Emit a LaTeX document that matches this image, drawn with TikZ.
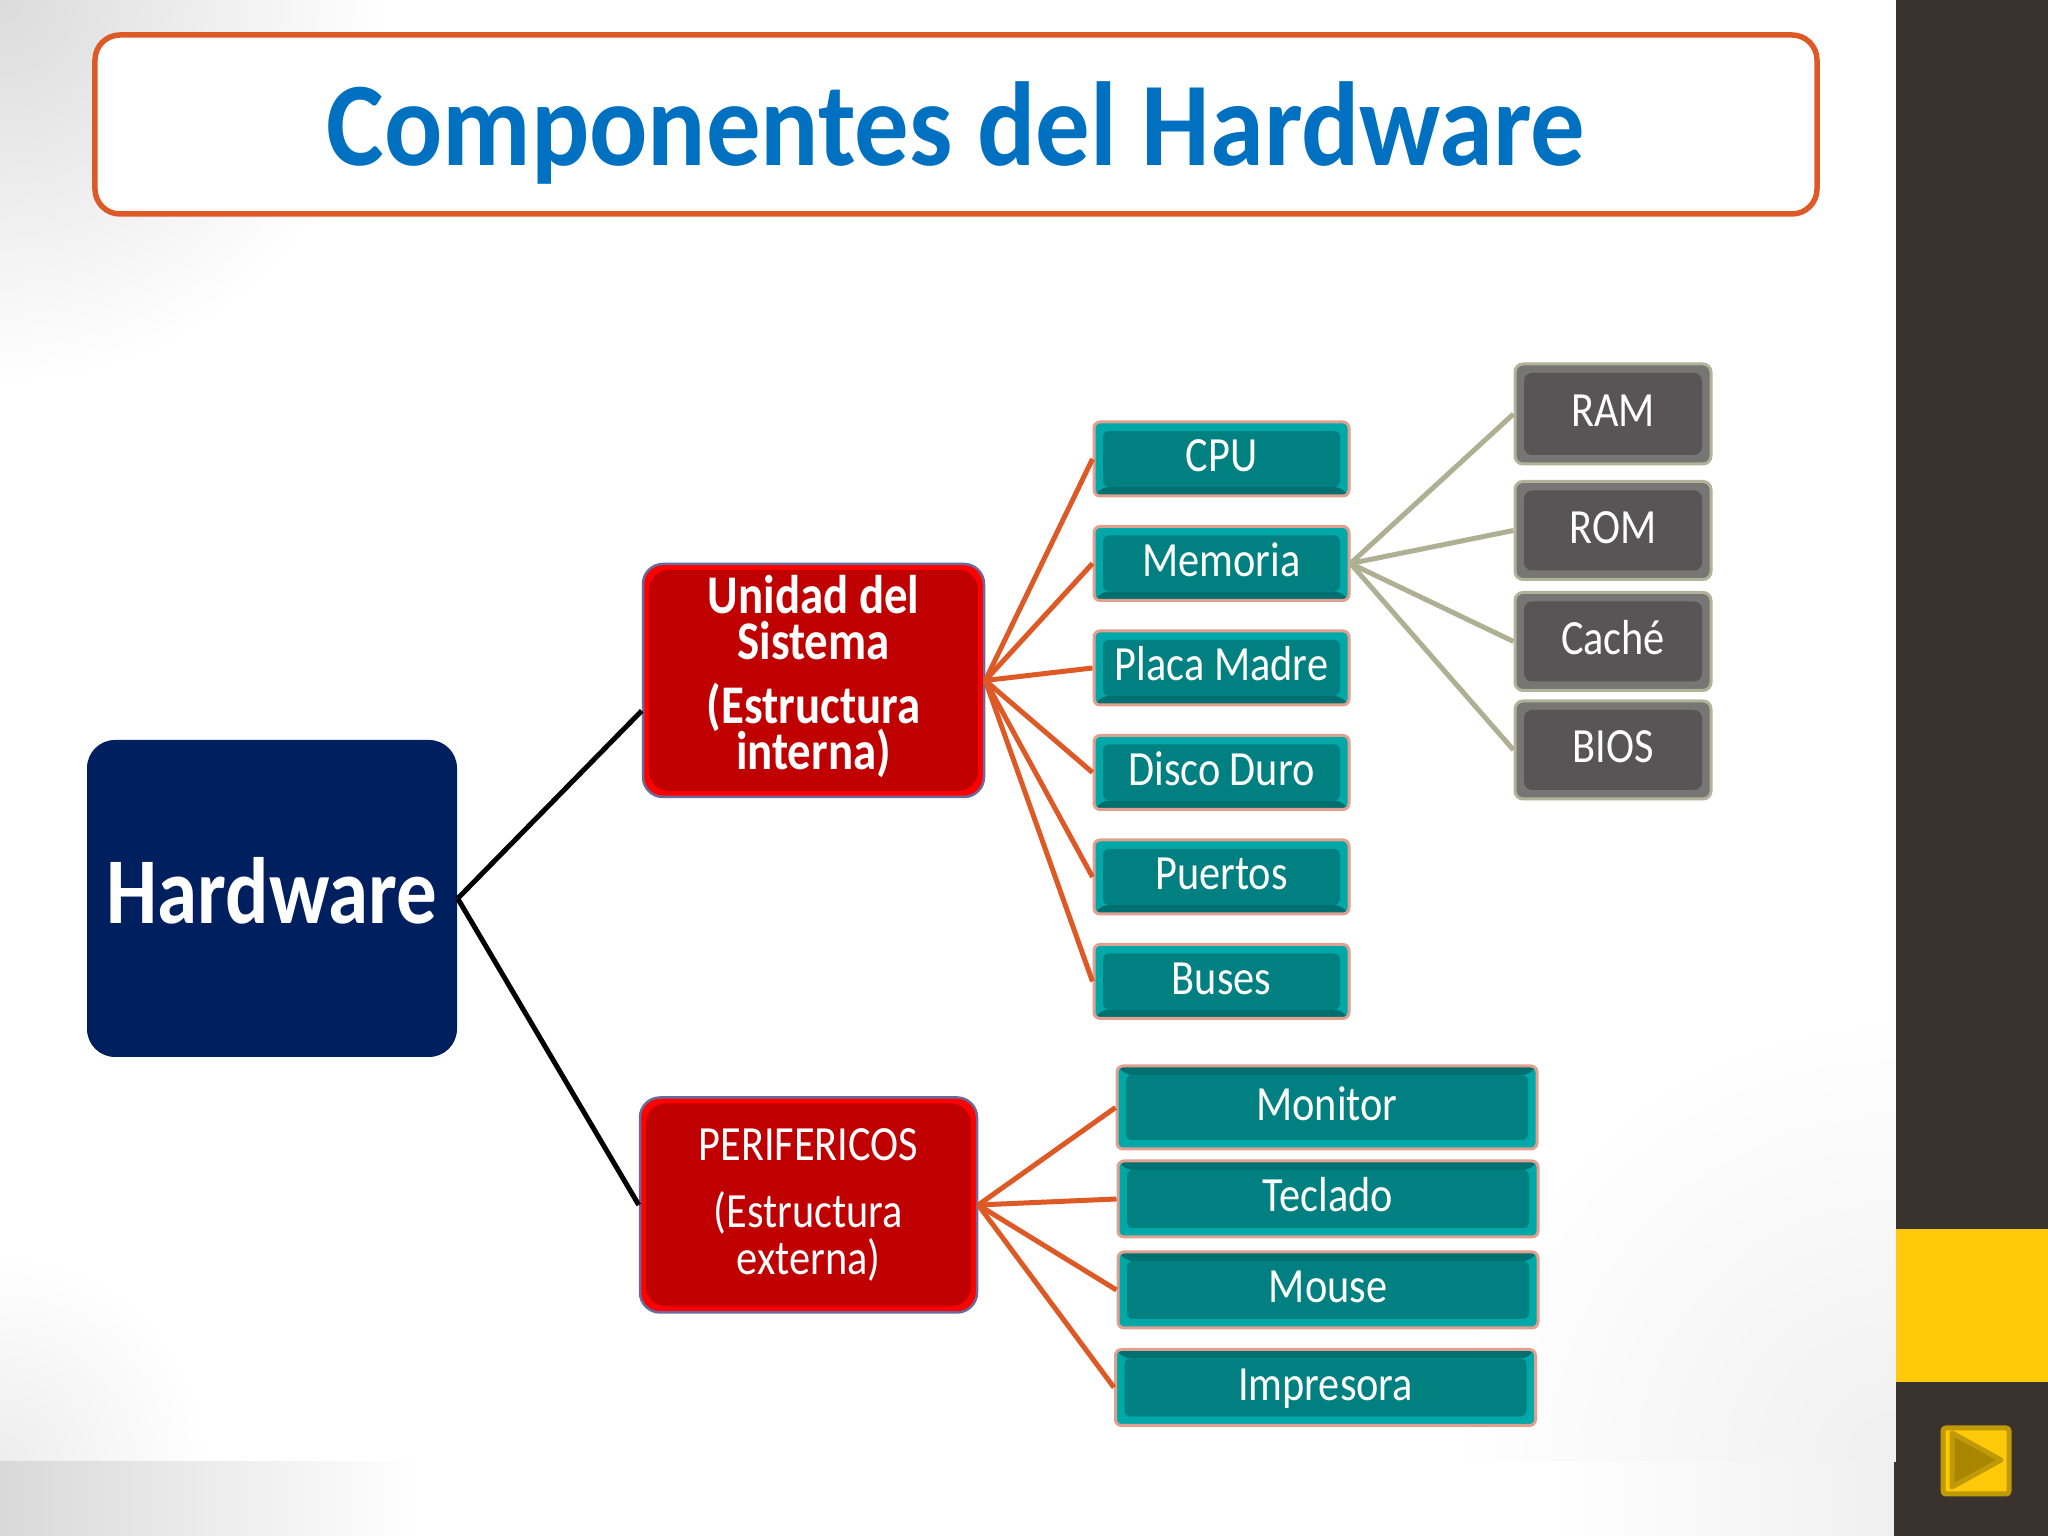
\documentclass[tikz,border=0pt]{standalone}
\usepackage{fontspec}
\setmainfont{Carlito}[FakeStretch=0.86]
\newfontfamily\titlefont{Carlito}[FakeStretch=0.91]
\definecolor{barDark}{HTML}{3A322E}
\definecolor{barYellow}{HTML}{FFC90A}
\definecolor{btnEdge}{HTML}{BF9A06}
\definecolor{btnTri}{HTML}{A88600}
\definecolor{titleBlue}{HTML}{0070C0}
\definecolor{edgeOrange}{HTML}{DD5A26}
\definecolor{navyBox}{HTML}{001F5F}
\definecolor{redBase}{HTML}{C00000}
\definecolor{redEdge}{HTML}{6A6A9A}
\definecolor{tealBase}{HTML}{008080}
\definecolor{tealLight}{HTML}{00A8A8}
\definecolor{tealDark}{HTML}{006F6F}
\definecolor{tealEdge}{HTML}{E0A090}
\definecolor{greyBase}{HTML}{575556}
\definecolor{greyLight}{HTML}{767674}
\definecolor{greyEdge}{HTML}{B0B29A}
\definecolor{oliveLine}{HTML}{ADB092}
% the rectangles that use these reach past the slide
\pgfdeclareradialshading{glowtopleft}{\pgfpointorigin}{color(0bp)=(black!14); color(2.4bp)=(white); color(50bp)=(white)}
\pgfdeclareradialshading{glowbottomleft}{\pgfpointorigin}{color(0bp)=(black!7); color(1.3bp)=(white); color(50bp)=(white)}
\pgfdeclareradialshading{glowright}{\pgfpointorigin}{color(0bp)=(black!6); color(2.8bp)=(white); color(50bp)=(white)}
\tikzset{
  bevel/.style n args={5}{path picture={
    \fill[#1] (path picture bounding box.south west) rectangle (path picture bounding box.north east);
    \fill[#2] (path picture bounding box.south west) -- ++(#5,#5) -- ([shift={(-#5,#5)}]path picture bounding box.south east)
      -- (path picture bounding box.south east) -- cycle;
    \fill[#3] (path picture bounding box.north west) -- ++(#5,-#5) -- ([shift={(-#5,-#5)}]path picture bounding box.north east)
      -- (path picture bounding box.north east) -- cycle;
    \fill[#4] ([shift={(#5,#5)}]path picture bounding box.south west) rectangle ([shift={(-#5,-#5)}]path picture bounding box.north east);
  }},
  leafbox/.style={draw=tealEdge,line width=.3mm,rounded corners=.6mm,inner sep=0pt,
    text=white,font=\fontsize{14}{16}\selectfont,text height=.35cm,text depth=.09cm,
    minimum width=2.55cm,minimum height=.74cm,
    bevel={tealLight}{tealDark}{tealLight}{tealBase}{.09}},
  widebox/.style={leafbox,minimum width=4.2cm,minimum height=.76cm,
    bevel={tealLight}{tealLight}{tealDark}{tealBase}{.09}},
  memobox/.style={draw=greyEdge,line width=.3mm,rounded corners=.8mm,inner sep=0pt,
    text=white,font=\fontsize{14}{16}\selectfont,text height=.35cm,text depth=.09cm,
    minimum width=1.96cm,minimum height=.98cm,
    bevel={greyLight}{greyLight}{greyLight}{greyBase}{.09}},
  partbox/.style={draw=redEdge,line width=.25mm,rounded corners=2mm,inner sep=0pt,
    text=white,align=center,bevel={red}{red}{red}{redBase}{.06},
    execute at begin node={\lineskiplimit=-10pt\relax}},
  blackline/.style={draw=black,line width=.5mm},
  orangeline/.style={draw=edgeOrange,line width=.5mm},
  oliveline/.style={draw=oliveLine,line width=.5mm}
}
\begin{document}
\begin{tikzpicture}
  \useasboundingbox (0,0) rectangle (20.48,15.36);
  % background
  \fill[white] (0,0) rectangle (18.96,15.36);
  \begin{scope}
    \clip (0,.74) rectangle (18.96,15.36);
    \shade[shading=glowtopleft,blend mode=multiply] (-40,-24.64) rectangle (40,55.36);
    \shade[shading=glowbottomleft,blend mode=multiply] (-40,-39.26) rectangle (40,40.74);
    \shade[shading=glowright,blend mode=multiply] (-21.04,-39.26) rectangle (58.96,40.74);
  \end{scope}
  \shade[left color=black!15,right color=white] (0,0) rectangle (4.2,.74);
  \shade[left color=white,right color=black!6] (15.5,0) rectangle (18.94,.74);
  \fill[barDark] (18.96,0) rectangle (20.48,15.36);
  \fill[barDark] (18.94,0) rectangle (18.96,.74);
  \fill[barYellow] (18.96,1.54) rectangle (20.48,3.07);
  \draw[fill=barYellow,draw=btnEdge,line width=.5mm,rounded corners=.3mm]
    (19.43,.42) rectangle (20.09,1.08);
  \draw[fill=btnTri,draw=btnEdge,line width=.5mm,line join=round]
    (19.52,.49) -- (19.52,1.03) -- (20.01,.76) -- cycle;
  % title
  \node[draw=edgeOrange,line width=.55mm,rounded corners=2.5mm,fill=white,minimum width=17.22cm,minimum height=1.79cm,
    inner sep=0pt,text=titleBlue,font=\titlefont\fontsize{34}{38}\selectfont\bfseries,text height=.95cm,text depth=.13cm] (title) at (9.56,14.115)
    {Componentes del Hardware};
  % main boxes
  \node[fill=navyBox,rounded corners=2.8mm,minimum width=3.70cm,minimum height=3.17cm,inner sep=0pt,
    text=white,font=\fontsize{26.8}{30}\selectfont\bfseries,text height=.58cm,text depth=.08cm] (hardware) at (2.72,6.375) {Hardware};
  \node[partbox,minimum width=3.41cm,minimum height=2.33cm,font=\fontsize{15.5}{13.1}\selectfont\bfseries] (unidad) at (8.135,8.555)
    {Unidad del\\Sistema\\[1.8mm](Estructura\\interna)\rule[-1.6mm]{0pt}{0pt}};
  \node[partbox,minimum width=3.37cm,minimum height=2.15cm,font=\fontsize{14}{13.4}\selectfont] (perifericos) at (8.085,3.31)
    {PERIFERICOS\\[2mm](Estructura\\externa)};
  % internal parts
  \node[leafbox] (cpu) at (12.215,10.77) {CPU};
  \node[leafbox] (memoria) at (12.215,9.725) {Memoria};
  \node[leafbox] (placa) at (12.215,8.68) {Placa Madre};
  \node[leafbox] (disco) at (12.215,7.635) {Disco Duro};
  \node[leafbox] (puertos) at (12.215,6.59) {Puertos};
  \node[leafbox] (buses) at (12.215,5.545) {Buses};
  % memory types
  \node[memobox,minimum height=1cm] (ram) at (16.13,11.22) {RAM};
  \node[memobox] (rom) at (16.13,10.055) {ROM};
  \node[memobox] (cache) at (16.13,8.945) {Caché};
  \node[memobox] (bios) at (16.13,7.86) {BIOS};
  % external parts
  \node[widebox,minimum height=.83cm] (monitor) at (13.27,4.285) {Monitor};
  \node[widebox] (teclado) at (13.28,3.37) {Teclado};
  \node[widebox] (mouse) at (13.28,2.46) {Mouse};
  \node[widebox] (impresora) at (13.255,1.485) {Impresora};
  % connectors
  \draw[blackline] (hardware.east) -- (unidad.190);
  \draw[blackline] (hardware.east) -- (perifericos.west);
  \foreach \part in {cpu,memoria,placa,disco,puertos,buses}
    \draw[orangeline] (unidad.east) -- (\part.west);
  \foreach \part in {monitor,teclado,mouse,impresora}
    \draw[orangeline] (perifericos.east) -- (\part.west);
  \foreach \part in {ram,rom,cache,bios}
    \draw[oliveline] (memoria.east) -- (\part.west);
\end{tikzpicture}
\end{document}
